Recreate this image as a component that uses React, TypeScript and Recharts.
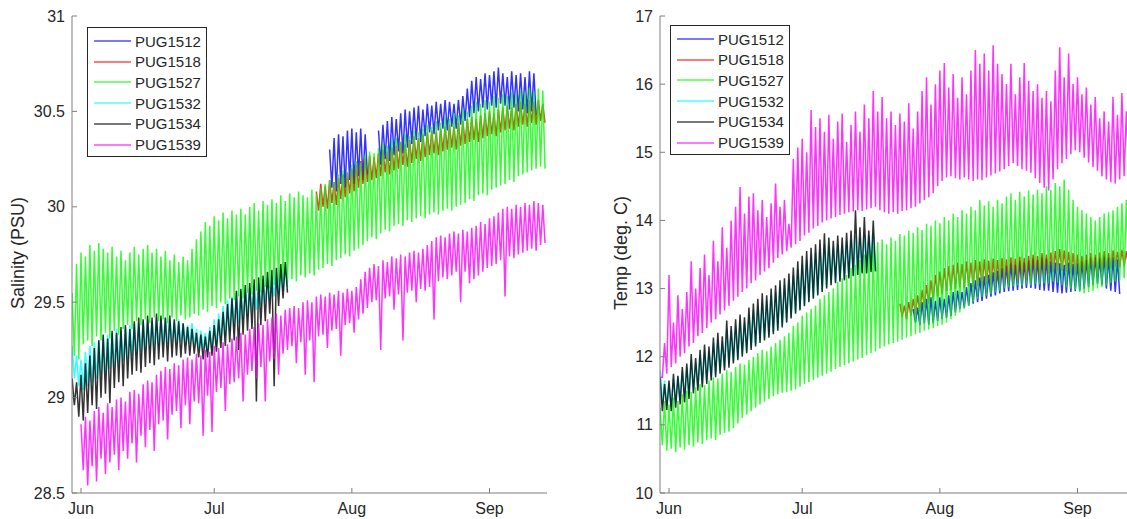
import React from 'react';
import { LineChart, Line, XAxis, YAxis, Legend } from 'recharts';

// Days counted from 1 June; each series keeps one daily high and one daily low
const MONTH_TICKS = [0, 30, 61, 92];
const MONTH_LABELS = ['Jun', 'Jul', 'Aug', 'Sep'];
const DAY_DOMAIN = [-2.03, 104.95];

const SERIES_NAMES = ['PUG1512', 'PUG1518', 'PUG1527', 'PUG1532', 'PUG1534', 'PUG1539'];
const SERIES_COLORS = ['#0000ff', '#ff0000', '#00ff00', '#00ffff', '#000000', '#ff00ff'];

const SAL_TICKS = [28.5, 29, 29.5, 30, 30.5, 31];
const TEMP_TICKS = [10, 11, 12, 13, 14, 15, 16, 17];

// ---- Salinity (left panel) ----
const SAL_1512_START = 56;
const SAL_1512_HI = [30.30, 30.36, 30.38, 30.37, 30.40, 30.41, 30.39, 30.41, 30.38, null,
  null, 30.40, 30.43, 30.45, 30.47, 30.46, 30.49, 30.51, 30.50, 30.52,
  30.53, 30.51, 30.54, 30.53, 30.55, 30.54, 30.56, 30.55, 30.54, 30.56,
  30.58, 30.62, 30.66, 30.68, 30.67, 30.70, 30.69, 30.71, 30.73, 30.70,
  30.68, 30.71, 30.69, 30.70, 30.68, 30.71, 30.70];
const SAL_1512_LO = [30.10, 30.08, 30.12, 30.10, 30.14, 30.12, 30.16, 30.14, 30.17, null,
  null, 30.22, 30.25, 30.24, 30.27, 30.29, 30.28, 30.31, 30.33, 30.35,
  30.34, 30.37, 30.39, 30.38, 30.40, 30.41, 30.40, 30.42, 30.41, 30.43,
  30.45, 30.47, 30.49, 30.50, 30.52, 30.51, 30.53, 30.52, 30.54, 30.53,
  30.51, 30.52, 30.50, 30.51, 30.49, 30.50, 30.48];

const SAL_1518_START = 53;
const SAL_1518_HI = [30.08, 30.12, 30.11, 30.14, 30.13, 30.15, 30.17, 30.18, 30.20, 30.22,
  30.24, 30.25, 30.27, 30.26, 30.28, 30.30, 30.29, 30.31, 30.32, 30.34,
  30.33, 30.35, 30.37, 30.36, 30.38, 30.39, 30.40, 30.39, 30.41, 30.42,
  30.43, 30.42, 30.44, 30.45, 30.46, 30.47, 30.46, 30.48, 30.49, 30.50,
  30.49, 30.51, 30.52, 30.53, 30.52, 30.54, 30.55, 30.54, 30.56, 30.55,
  30.56, 30.54];
const SAL_1518_LO = [29.98, 30.00, 29.99, 30.02, 30.01, 30.04, 30.05, 30.07, 30.08, 30.10,
  30.12, 30.13, 30.14, 30.15, 30.16, 30.18, 30.17, 30.19, 30.20, 30.22,
  30.21, 30.23, 30.25, 30.24, 30.26, 30.27, 30.28, 30.27, 30.29, 30.30,
  30.31, 30.30, 30.32, 30.33, 30.34, 30.35, 30.34, 30.36, 30.37, 30.38,
  30.37, 30.39, 30.40, 30.41, 30.40, 30.42, 30.43, 30.42, 30.44, 30.43,
  30.45, 30.44];

const SAL_1527_START = -2;
const SAL_1527_HI = [29.55, 29.70, 29.76, 29.74, 29.80, 29.77, 29.81, 29.78, 29.76, 29.79,
  29.74, 29.77, 29.72, 29.76, 29.79, 29.75, 29.78, 29.80, 29.76, 29.78,
  29.74, 29.77, 29.72, 29.75, 29.71, 29.74, 29.72, 29.78, 29.83, 29.87,
  29.92, 29.90, 29.95, 29.93, 29.97, 29.94, 29.98, 29.96, 29.99, 29.96,
  30.00, 30.02, 29.98, 30.03, 30.01, 30.04, 30.02, 30.06, 30.03, 30.07,
  30.05, 30.08, 30.06, 30.05, 30.09, 30.07, 30.10, 30.12, 30.14, 30.13,
  30.17, 30.19, 30.18, 30.22, 30.24, 30.23, 30.27, 30.29, 30.28, 30.31,
  30.33, 30.32, 30.35, 30.36, 30.34, 30.38, 30.37, 30.40, 30.39, 30.41,
  30.43, 30.42, 30.45, 30.44, 30.47, 30.46, 30.49, 30.48, 30.51, 30.50,
  30.53, 30.55, 30.54, 30.56, 30.55, 30.58, 30.57, 30.59, 30.58, 30.60,
  30.59, 30.61, 30.60, 30.62, 30.60, 30.62, 30.61];
const SAL_1527_LO = [29.22, 29.20, 29.28, 29.30, 29.27, 29.32, 29.30, 29.34, 29.31, 29.35,
  29.33, 29.36, 29.38, 29.36, 29.40, 29.38, 29.41, 29.39, 29.42, 29.40,
  29.41, 29.39, 29.42, 29.40, 29.43, 29.41, 29.42, 29.44, 29.43, 29.46,
  29.45, 29.48, 29.47, 29.50, 29.49, 29.52, 29.51, 29.53, 29.52, 29.55,
  29.54, 29.56, 29.55, 29.58, 29.57, 29.59, 29.58, 29.61, 29.60, 29.62,
  29.61, 29.64, 29.63, 29.65, 29.64, 29.67, 29.68, 29.70, 29.69, 29.72,
  29.73, 29.75, 29.74, 29.77, 29.78, 29.80, 29.82, 29.84, 29.83, 29.86,
  29.88, 29.87, 29.90, 29.91, 29.90, 29.93, 29.92, 29.94, 29.95, 29.94,
  29.96, 29.97, 29.96, 29.98, 29.99, 29.98, 30.00, 30.01, 30.02, 30.04,
  30.03, 30.06, 30.07, 30.06, 30.09, 30.10, 30.11, 30.12, 30.14, 30.13,
  30.16, 30.17, 30.18, 30.19, 30.20, 30.21, 30.20];

const SAL_1532_START = -2;
const SAL_1532_HI = [29.27, 29.22, 29.20, 29.24, 29.27, 29.29, 29.30, 29.32, 29.33, 29.34,
  29.36, 29.35, 29.37, 29.38, 29.39, 29.39, 29.40, 29.41, 29.40, 29.42,
  29.41, 29.42, 29.41, 29.40, 29.41, 29.39, 29.38, 29.39, 29.36, 29.35,
  29.34, 29.37, 29.41, 29.44, 29.48, 29.51, 29.53, 29.55, 29.56, 29.57,
  29.58, 29.59, 29.60, 29.62, 29.63, 29.64, 29.66, 29.67, 29.69];
const SAL_1532_LO = [29.10, 29.06, 29.04, 29.06, 29.08, 29.10, 29.12, 29.13, 29.15, 29.16,
  29.18, 29.19, 29.20, 29.22, 29.23, 29.24, 29.25, 29.26, 29.27, 29.27,
  29.28, 29.28, 29.29, 29.29, 29.29, 29.28, 29.28, 29.27, 29.26, 29.25,
  29.24, 29.25, 29.27, 29.30, 29.32, 29.35, 29.37, 29.39, 29.41, 29.43,
  29.45, 29.46, 29.48, 29.50, 29.51, 29.53, 29.55, 29.56, 29.58];

const SAL_1534_START = -2;
const SAL_1534_HI = [29.10, 29.08, 29.12, 29.18, 29.22, 29.26, 29.30, 29.33, 29.31, 29.35,
  29.34, 29.37, 29.38, 29.36, 29.40, 29.42, 29.41, 29.43, 29.42, 29.44,
  29.43, 29.42, 29.43, 29.41, 29.40, 29.39, 29.37, 29.36, 29.34, 29.33,
  29.32, 29.35, 29.38, 29.41, 29.45, 29.49, 29.52, 29.56, 29.57, 29.59,
  29.60, 29.62, 29.63, 29.64, 29.66, 29.67, 29.68, 29.70, 29.71];
const SAL_1534_LO = [28.96, 28.90, 28.88, 28.92, 28.96, 28.94, 29.00, 29.02, 28.97, 29.05,
  29.08, 29.06, 29.10, 29.12, 29.14, 29.13, 29.16, 29.18, 29.17, 29.20,
  29.21, 29.19, 29.21, 29.22, 29.21, 29.23, 29.22, 29.23, 29.21, 29.20,
  29.21, 29.22, 29.24, 29.26, 29.27, 29.29, 29.30, 29.25, 29.33, 29.35,
  29.36, 28.98, 29.38, 29.40, 29.44, 29.06, 29.48, 29.52, 29.55];

const SAL_1539_START = 0;
const SAL_1539_HI = [28.86, 28.90, 28.88, 28.93, 28.95, 28.92, 28.97, 28.95, 28.99, 29.00,
  28.98, 29.03, 29.04, 29.02, 29.07, 29.09, 29.08, 29.12, 29.14, 29.16,
  29.15, 29.18, 29.17, 29.20, 29.21, 29.20, 29.23, 29.22, 29.25, 29.24,
  29.27, 29.26, 29.29, 29.28, 29.31, 29.32, 29.34, 29.33, 29.36, 29.37,
  29.39, 29.38, 29.41, 29.42, 29.44, 29.43, 29.46, 29.47, 29.48, 29.47,
  29.50, 29.51, 29.50, 29.53, 29.54, 29.53, 29.55, 29.54, 29.56, 29.55,
  29.57, 29.56, 29.58, 29.62, 29.66, 29.68, 29.70, 29.69, 29.72, 29.71,
  29.74, 29.73, 29.75, 29.74, 29.76, 29.77, 29.76, 29.78, 29.80, 29.82,
  29.84, 29.85, 29.84, 29.86, 29.87, 29.86, 29.88, 29.87, 29.89, 29.90,
  29.92, 29.91, 29.94, 29.95, 29.97, 29.99, 30.00, 29.99, 30.01, 30.00,
  30.02, 30.01, 30.03, 30.02, 30.01];
const SAL_1539_LO = [28.62, 28.54, 28.64, 28.56, 28.68, 28.60, 28.66, 28.70, 28.62, 28.72,
  28.68, 28.76, 28.66, 28.80, 28.74, 28.83, 28.72, 28.86, 28.88, 28.78,
  28.91, 28.93, 28.84, 28.96, 28.86, 28.98, 28.97, 28.80, 29.01, 28.82,
  29.03, 29.05, 28.93, 29.07, 29.08, 29.10, 28.98, 29.12, 29.14, 29.10,
  29.16, 28.98, 29.19, 29.20, 29.12, 29.23, 29.25, 29.27, 29.18, 29.29,
  29.12, 29.30, 29.08, 29.32, 29.33, 29.26, 29.35, 29.36, 29.22, 29.38,
  29.39, 29.34, 29.41, 29.44, 29.47, 29.50, 29.51, 29.25, 29.52, 29.53,
  29.46, 29.54, 29.30, 29.55, 29.56, 29.50, 29.57, 29.56, 29.58, 29.41,
  29.61, 29.63, 29.62, 29.64, 29.66, 29.50, 29.66, 29.60, 29.62, 29.64,
  29.66, 29.68, 29.69, 29.70, 29.72, 29.53, 29.74, 29.73, 29.75, 29.76,
  29.77, 29.78, 29.77, 29.80, 29.81];

// ---- Temperature (right panel) ----
const TMP_1512_START = 55;
const TMP_1512_HI = [12.70, 12.72, 12.80, 12.85, 12.87, 12.82, 12.87, 12.85, 12.90, 12.95,
  12.97, 12.95, 13.02, 13.08, 13.12, 13.16, 13.18, 13.20, 13.24, 13.26,
  13.30, 13.33, 13.37, 13.35, 13.40, 13.38, 13.41, 13.44, 13.42, 13.46,
  13.44, 13.40, 13.38, 13.37, 13.35, 13.38, 13.36, 13.37, 13.40, 13.42,
  13.45, 13.46, 13.44, 13.47, 13.45, 13.46, 13.43];
const TMP_1512_LO = [12.50, 12.46, 12.49, 12.47, 12.49, 12.52, 12.55, 12.57, 12.60, 12.65,
  12.70, 12.72, 12.75, 12.78, 12.80, 12.82, 12.85, 12.88, 12.90, 12.93,
  12.95, 12.96, 12.97, 12.98, 13.00, 13.01, 13.01, 13.00, 12.98, 12.97,
  12.97, 12.95, 12.94, 12.93, 12.94, 12.95, 12.96, 12.97, 13.00, 13.02,
  13.05, 13.07, 13.05, 13.00, 12.97, 12.95, 12.92];

const TMP_1518_START = 52;
const TMP_1518_HI = [12.78, 12.75, 12.80, 12.85, 12.90, 12.98, 13.05, 13.12, 13.20, 13.25,
  13.30, 13.33, 13.35, 13.38, 13.36, 13.40, 13.38, 13.42, 13.40, 13.43,
  13.41, 13.44, 13.42, 13.45, 13.43, 13.46, 13.44, 13.47, 13.45, 13.48,
  13.50, 13.48, 13.52, 13.50, 13.53, 13.55, 13.58, 13.56, 13.54, 13.52,
  13.50, 13.48, 13.50, 13.52, 13.50, 13.53, 13.55, 13.52, 13.56, 13.54,
  13.57, 13.55, 13.53];
const TMP_1518_LO = [12.58, 12.55, 12.60, 12.62, 12.66, 12.72, 12.78, 12.84, 12.88, 12.92,
  12.96, 12.98, 13.00, 13.02, 13.01, 13.03, 13.02, 13.04, 13.03, 13.06,
  13.05, 13.08, 13.07, 13.10, 13.09, 13.12, 13.11, 13.13, 13.12, 13.15,
  13.17, 13.16, 13.20, 13.22, 13.24, 13.25, 13.26, 13.24, 13.22, 13.20,
  13.18, 13.17, 13.19, 13.21, 13.22, 13.25, 13.28, 13.30, 13.32, 13.31,
  13.33, 13.32, 13.30];

const TMP_1527_START = -2;
const TMP_1527_HI = [11.25, 11.35, 11.30, 11.40, 11.35, 11.45, 11.50, 11.48, 11.55, 11.60,
  11.58, 11.65, 11.70, 11.68, 11.75, 11.80, 11.78, 11.85, 11.90, 11.88,
  11.95, 12.00, 12.05, 12.10, 12.08, 12.15, 12.20, 12.25, 12.30, 12.35,
  12.45, 12.50, 12.60, 12.65, 12.70, 12.75, 12.85, 12.90, 12.95, 13.00,
  13.10, 13.15, 13.20, 13.30, 13.35, 13.42, 13.50, 13.55, 13.62, 13.68,
  13.72, 13.65, 13.75, 13.70, 13.80, 13.78, 13.85, 13.82, 13.90, 13.86,
  13.95, 13.92, 14.00, 13.96, 14.05, 14.00, 14.10, 14.05, 14.15, 14.10,
  14.20, 14.15, 14.30, 14.22, 14.28, 14.20, 14.30, 14.25, 14.35, 14.40,
  14.30, 14.42, 14.35, 14.44, 14.38, 14.45, 14.40, 14.50, 14.45, 14.55,
  14.50, 14.60, 14.45, 14.30, 14.20, 14.15, 14.10, 14.05, 14.00, 14.05,
  14.10, 14.12, 14.15, 14.20, 14.25, 14.30, 14.28];
const TMP_1527_LO = [10.70, 10.62, 10.65, 10.60, 10.67, 10.64, 10.70, 10.68, 10.74, 10.72,
  10.78, 10.80, 10.78, 10.85, 10.88, 10.90, 10.95, 11.02, 11.10, 11.15,
  11.20, 11.25, 11.30, 11.34, 11.38, 11.42, 11.45, 11.47, 11.48, 11.50,
  11.52, 11.56, 11.60, 11.63, 11.66, 11.69, 11.72, 11.75, 11.78, 11.82,
  11.85, 11.88, 11.90, 11.93, 11.96, 11.98, 12.02, 12.05, 12.08, 12.12,
  12.15, 12.18, 12.20, 12.22, 12.25, 12.28, 12.30, 12.33, 12.35, 12.38,
  12.40, 12.42, 12.45, 12.47, 12.50, 12.55, 12.60, 12.65, 12.70, 12.75,
  12.80, 12.85, 12.88, 12.90, 12.92, 12.95, 12.97, 13.00, 13.02, 13.03,
  13.05, 13.04, 13.06, 13.05, 13.07, 13.06, 13.08, 13.07, 13.10, 13.08,
  13.05, 13.02, 13.00, 12.98, 12.95, 12.93, 12.95, 12.97, 13.00, 13.02,
  13.05, 13.08, 13.10, 13.12, 13.15, 13.18, 13.20];

const TMP_1532_START = -2;
const TMP_1532_HI = [11.80, 11.65, 11.60, 11.68, 11.70, 11.80, 11.85, 11.95, 11.92, 12.02,
  12.10, 12.08, 12.20, 12.25, 12.22, 12.40, 12.38, 12.45, 12.52, 12.50,
  12.62, 12.68, 12.75, 12.80, 12.82, 12.90, 12.95, 13.02, 13.05, 13.12,
  13.20, 13.28, 13.35, 13.42, 13.48, 13.52, 13.58, 13.65, 13.62, 13.60,
  13.65, 13.63, 13.70, 13.72, 13.78, 13.75, 13.80, 13.78, 13.82];
const TMP_1532_LO = [11.30, 11.28, 11.27, 11.32, 11.36, 11.40, 11.44, 11.50, 11.55, 11.60,
  11.64, 11.70, 11.74, 11.79, 11.84, 11.88, 11.93, 11.98, 12.03, 12.08,
  12.13, 12.18, 12.23, 12.27, 12.31, 12.36, 12.41, 12.46, 12.52, 12.58,
  12.65, 12.70, 12.76, 12.82, 12.87, 12.92, 12.97, 13.02, 13.07, 13.10,
  13.12, 13.14, 13.17, 13.20, 13.22, 13.24, 13.25, 13.27, 13.28];

const TMP_1534_START = -2;
const TMP_1534_HI = [11.69, 11.60, 11.65, 11.75, 11.72, 11.85, 11.90, 12.04, 11.98, 12.10,
  12.18, 12.15, 12.28, 12.35, 12.30, 12.53, 12.45, 12.55, 12.62, 12.58,
  12.72, 12.78, 12.85, 12.93, 12.90, 13.00, 13.05, 13.12, 13.15, 13.22,
  13.31, 13.40, 13.48, 13.55, 13.60, 13.65, 13.72, 13.81, 13.75, 13.70,
  13.78, 13.75, 13.82, 13.85, 14.15, 13.90, 14.05, 13.85, 14.00];
const TMP_1534_LO = [11.20, 11.22, 11.20, 11.25, 11.30, 11.33, 11.38, 11.46, 11.50, 11.55,
  11.60, 11.65, 11.70, 11.75, 11.80, 11.84, 11.90, 11.95, 12.00, 12.05,
  12.10, 12.15, 12.20, 12.24, 12.28, 12.33, 12.38, 12.43, 12.50, 12.56,
  12.63, 12.68, 12.74, 12.80, 12.85, 12.90, 12.95, 13.00, 13.05, 13.08,
  13.10, 13.12, 13.15, 13.18, 13.20, 13.22, 13.22, 13.24, 13.25];

const TMP_1539_START = -2;
const TMP_1539_HI = [11.70, 12.20, 13.20, 12.50, 12.90, 12.70, 12.95, 13.40, 13.00, 13.30,
  13.50, 13.20, 13.70, 13.40, 13.90, 13.60, 14.00, 14.20, 14.49, 14.10,
  14.35, 14.40, 14.15, 14.30, 14.05, 14.25, 14.54, 14.20, 14.30, 13.95,
  14.90, 15.07, 15.20, 15.00, 15.62, 15.37, 15.50, 15.30, 15.55, 15.20,
  15.45, 15.57, 15.15, 15.40, 15.60, 15.30, 15.70, 15.50, 15.90, 15.60,
  15.81, 15.50, 15.60, 15.40, 15.57, 15.45, 15.72, 15.35, 15.60, 15.90,
  16.10, 15.70, 16.00, 16.20, 16.31, 15.95, 16.15, 15.80, 16.10, 15.85,
  16.20, 16.50, 16.30, 16.45, 16.20, 16.57, 16.30, 16.15, 16.00, 16.30,
  15.85, 16.10, 16.31, 16.05, 15.90, 16.00, 15.80, 15.90, 15.75, 16.20,
  16.54, 16.10, 16.45, 16.00, 16.10, 15.85, 15.95, 15.70, 15.81, 15.50,
  15.60, 15.45, 15.81, 15.55, 15.87, 15.60, 15.80];
const TMP_1539_LO = [11.70, 11.75, 11.85, 11.90, 12.00, 12.05, 12.15, 12.20, 12.30, 12.35,
  12.42, 12.50, 12.55, 12.62, 12.68, 12.75, 12.82, 12.88, 12.95, 13.00,
  13.08, 13.12, 13.20, 13.25, 13.30, 13.38, 13.45, 13.50, 13.55, 13.60,
  13.65, 13.70, 13.78, 13.82, 13.88, 13.92, 13.97, 14.00, 14.03, 14.05,
  14.08, 14.10, 14.12, 14.13, 14.15, 14.14, 14.16, 14.18, 14.20, 14.15,
  14.12, 14.10, 14.12, 14.10, 14.14, 14.15, 14.18, 14.20, 14.25, 14.30,
  14.34, 14.40, 14.50, 14.58, 14.63, 14.65, 14.62, 14.60, 14.63, 14.60,
  14.58, 14.60, 14.59, 14.63, 14.66, 14.69, 14.72, 14.75, 14.80, 14.84,
  14.80, 14.75, 14.73, 14.70, 14.62, 14.55, 14.48, 14.44, 14.60, 14.75,
  14.84, 14.90, 14.97, 15.03, 15.00, 14.92, 14.85, 14.78, 14.73, 14.65,
  14.60, 14.56, 14.54, 14.60, 14.65, 14.73, 14.70];

const TEXT = '#262626';
const AXIS = '#7f7f7f';
const FONT = '"Liberation Sans", Arial, Helvetica, sans-serif';
const TM = 4; // tick margin, used to find the axis line back inside the custom ticks

type Pt = { day: number; v: number | null };

// high at the start of each day, low half a day later
function zigzag(start: number, hi: (number | null)[], lo: (number | null)[]): Pt[] {
  const pts: Pt[] = [];
  hi.forEach((h, i) => {
    pts.push({ day: start + i, v: h });
    pts.push({ day: start + i + 0.5, v: lo[i] });
  });
  return pts;
}

const SAL_SERIES = [
  zigzag(SAL_1512_START, SAL_1512_HI, SAL_1512_LO),
  zigzag(SAL_1518_START, SAL_1518_HI, SAL_1518_LO),
  zigzag(SAL_1527_START, SAL_1527_HI, SAL_1527_LO),
  zigzag(SAL_1532_START, SAL_1532_HI, SAL_1532_LO),
  zigzag(SAL_1534_START, SAL_1534_HI, SAL_1534_LO),
  zigzag(SAL_1539_START, SAL_1539_HI, SAL_1539_LO),
];

const TMP_SERIES = [
  zigzag(TMP_1512_START, TMP_1512_HI, TMP_1512_LO),
  zigzag(TMP_1518_START, TMP_1518_HI, TMP_1518_LO),
  zigzag(TMP_1527_START, TMP_1527_HI, TMP_1527_LO),
  zigzag(TMP_1532_START, TMP_1532_HI, TMP_1532_LO),
  zigzag(TMP_1534_START, TMP_1534_HI, TMP_1534_LO),
  zigzag(TMP_1539_START, TMP_1539_HI, TMP_1539_LO),
];

const BottomTick = (props: any) => {
  const { x, y, payload } = props;
  const axisY = y - TM;
  const label = MONTH_LABELS[MONTH_TICKS.indexOf(payload.value)];
  return (
    <g>
      <line x1={x} y1={axisY} x2={x} y2={axisY - 5} stroke={AXIS} />
      <text x={x} y={axisY + 21} textAnchor="middle" fill={TEXT} fontSize={16} fontFamily={FONT}>
        {label}
      </text>
    </g>
  );
};

const TopTick = (props: any) => {
  const { x, y } = props;
  const axisY = y + TM;
  return <line x1={x} y1={axisY} x2={x} y2={axisY + 5} stroke={AXIS} />;
};

const LeftTick = (props: any) => {
  const { x, y, payload } = props;
  const axisX = x + TM;
  return (
    <g>
      <line x1={axisX} y1={y} x2={axisX + 5} y2={y} stroke={AXIS} />
      <text x={axisX - 7} y={y} dy="0.35em" textAnchor="end" fill={TEXT} fontSize={16} fontFamily={FONT}>
        {payload.value}
      </text>
    </g>
  );
};

const RightTick = (props: any) => {
  const { x, y } = props;
  const axisX = x - TM;
  return <line x1={axisX} y1={y} x2={axisX - 5} y2={y} stroke={AXIS} />;
};

const LegendBox = () => (
  <div
    style={{
      width: 120,
      height: 130,
      boxSizing: 'border-box',
      border: `1px solid ${TEXT}`,
      background: '#fff',
      position: 'relative',
      fontFamily: FONT,
      fontSize: 15,
      color: TEXT,
    }}
  >
    {SERIES_NAMES.map((name, i) => (
      <div
        key={name}
        style={{ position: 'absolute', left: 6, top: 3 + i * 20.7, height: 20, display: 'flex', alignItems: 'center' }}
      >
        <svg width={38} height={4}>
          <line x1={0} y1={2} x2={37} y2={2} stroke={SERIES_COLORS[i]} strokeOpacity={0.7} strokeWidth={1.5} />
        </svg>
        <span style={{ marginLeft: 3, whiteSpace: 'nowrap' }}>{name}</span>
      </div>
    ))}
  </div>
);

interface PanelProps {
  left: number;
  marginLeft: number;
  marginRight: number;
  series: Pt[][];
  yDomain: number[];
  yTicks: number[];
  legendLeft: number;
  legendTop: number;
}

function Panel({ left, marginLeft, marginRight, series, yDomain, yTicks, legendLeft, legendTop }: PanelProps) {
  return (
    <div style={{ position: 'absolute', left, top: 0 }}>
      <LineChart width={560} height={519} margin={{ top: 16, right: marginRight, bottom: 0, left: marginLeft }}>
        <XAxis
          dataKey="day"
          type="number"
          domain={DAY_DOMAIN}
          allowDataOverflow
          ticks={MONTH_TICKS}
          interval={0}
          height={26}
          tickSize={0}
          tickMargin={TM}
          tickLine={false}
          tick={<BottomTick />}
          axisLine={{ stroke: AXIS }}
        />
        <XAxis
          xAxisId="top"
          orientation="top"
          dataKey="day"
          type="number"
          domain={DAY_DOMAIN}
          allowDataOverflow
          ticks={MONTH_TICKS}
          interval={0}
          height={0}
          tickSize={0}
          tickMargin={TM}
          tickLine={false}
          tick={<TopTick />}
          axisLine={{ stroke: AXIS }}
        />
        <YAxis
          type="number"
          domain={yDomain}
          allowDataOverflow
          ticks={yTicks}
          interval={0}
          width={50}
          tickSize={0}
          tickMargin={TM}
          tickLine={false}
          tick={<LeftTick />}
          axisLine={{ stroke: AXIS }}
        />
        <YAxis
          yAxisId="right"
          orientation="right"
          type="number"
          domain={yDomain}
          allowDataOverflow
          ticks={yTicks}
          interval={0}
          width={0}
          tickSize={0}
          tickMargin={TM}
          tickLine={false}
          tick={<RightTick />}
          axisLine={{ stroke: AXIS }}
        />
        {series.map((data, i) => (
          <Line
            key={SERIES_NAMES[i]}
            data={data}
            dataKey="v"
            name={SERIES_NAMES[i]}
            type="linear"
            stroke={SERIES_COLORS[i]}
            strokeWidth={1.5}
            strokeOpacity={0.8}
            dot={false}
            activeDot={false}
            isAnimationActive={false}
          />
        ))}
        <Legend
          content={<LegendBox />}
          layout="vertical"
          align="center"
          verticalAlign="middle"
          wrapperStyle={{ left: legendLeft, top: legendTop, width: 120, height: 130 }}
        />
      </LineChart>
    </div>
  );
}

const YTitle = ({ x, text }: { x: number; text: string }) => (
  <div
    style={{
      position: 'absolute',
      left: x,
      top: 253,
      transform: 'translate(-50%, -50%) rotate(-90deg)',
      whiteSpace: 'nowrap',
      fontFamily: FONT,
      fontSize: 18,
      color: TEXT,
    }}
  >
    {text}
  </div>
);

export default function App() {
  return (
    <div style={{ position: 'absolute', left: 0, top: 0, width: 1127, height: 519, overflow: 'hidden', background: '#fff' }}>
      <Panel
        left={0}
        marginLeft={22}
        marginRight={13}
        series={SAL_SERIES}
        yDomain={[28.5, 31]}
        yTicks={SAL_TICKS}
        legendLeft={87}
        legendTop={27}
      />
      <Panel
        left={580}
        marginLeft={30}
        marginRight={5}
        series={TMP_SERIES}
        yDomain={[10, 17]}
        yTicks={TEMP_TICKS}
        legendLeft={90}
        legendTop={25}
      />
      <YTitle x={18} text="Salinity (PSU)" />
      <YTitle x={621} text="Temp (deg. C)" />
    </div>
  );
}
